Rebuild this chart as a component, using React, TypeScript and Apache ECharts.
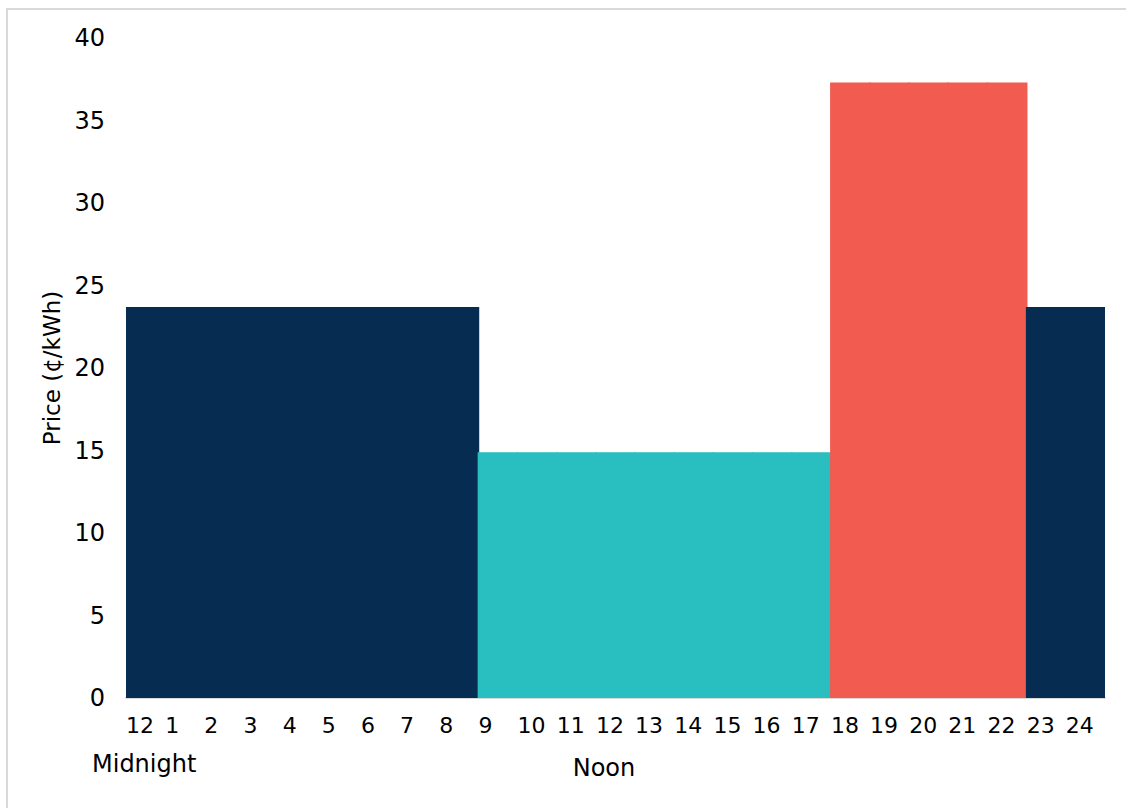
import React, { useEffect, useRef } from "react";
import * as echarts from "echarts";

// Hour categories (12 = midnight, then hours 1..24)
const hourLabels = [
  "12", "1", "2", "3", "4", "5", "6", "7", "8",
  "9", "10", "11", "12", "13", "14", "15", "16", "17",
  "18", "19", "20", "21", "22",
  "23", "24",
];

// Price per hour in ¢/kWh
const prices = [
  23.7, 23.7, 23.7, 23.7, 23.7, 23.7, 23.7, 23.7, 23.7,
  14.9, 14.9, 14.9, 14.9, 14.9, 14.9, 14.9, 14.9, 14.9,
  37.3, 37.3, 37.3, 37.3, 37.3,
  23.7, 23.7,
];

// Rate period per hour
const periods = [
  "off", "off", "off", "off", "off", "off", "off", "off", "off",
  "mid", "mid", "mid", "mid", "mid", "mid", "mid", "mid", "mid",
  "peak", "peak", "peak", "peak", "peak",
  "off", "off",
];

const periodColors: Record<string, string> = {
  off: "#062D51",
  mid: "#29BFC1",
  peak: "#F15B50",
};

const yMin = 0;
const yMax = 40;
const yInterval = 5;
const yAxisName = "Price (¢/kWh)";
const markerLabels = ["Midnight", "Noon"];

const FONT = "DejaVu Sans";

export default function App() {
  const ref = useRef<HTMLDivElement>(null);

  useEffect(() => {
    if (!ref.current) return;
    const chart = echarts.init(ref.current, undefined, { renderer: "svg" });
    const barData = prices.map((v, i) => ({
      value: v,
      itemStyle: { color: periodColors[periods[i]] },
    }));
    chart.setOption({
      animation: false,
      backgroundColor: "#ffffff",
      grid: { left: 126, right: 21, top: 38, bottom: 110, containLabel: false },
      xAxis: [
        {
          type: "category",
          data: hourLabels,
          boundaryGap: true,
          position: "bottom",
          axisLine: { show: true, lineStyle: { color: "#d9d9d9", width: 2 } },
          axisTick: { show: false },
          axisLabel: { show: false },
          splitLine: { show: false },
        },
        {
          type: "category",
          data: [...hourLabels, ""],
          boundaryGap: false,
          position: "bottom",
          axisLine: { show: false },
          axisTick: { show: false },
          splitLine: { show: false },
          axisLabel: {
            interval: 0,
            align: "left",
            margin: 16,
            fontSize: 22,
            fontFamily: FONT,
            color: "#000000",
            hideOverlap: false,
          },
        },
      ],
      yAxis: {
        type: "value",
        min: yMin,
        max: yMax,
        interval: yInterval,
        name: yAxisName,
        nameLocation: "middle",
        nameGap: 56,
        nameTextStyle: { fontSize: 23, fontFamily: FONT, color: "#000000" },
        axisLine: { show: false },
        axisTick: { show: false },
        splitLine: { show: false },
        axisLabel: {
          margin: 21,
          fontSize: 24,
          fontFamily: FONT,
          color: "#000000",
        },
      },
      series: [
        {
          type: "bar",
          xAxisIndex: 0,
          data: barData,
          barWidth: "104%",
        },
      ],
      graphic: [
        {
          type: "rect",
          silent: true,
          z: -10,
          shape: { x: 7, y: 9, width: 1140, height: 820 },
          style: { fill: "none", stroke: "#d9d9d9", lineWidth: 2 },
        },
        {
          type: "text",
          x: 92,
          y: 764,
          style: {
            text: markerLabels[0],
            fontSize: 24,
            fontFamily: FONT,
            fill: "#000000",
            align: "left",
            verticalAlign: "middle",
          },
        },
        {
          type: "text",
          x: 604,
          y: 768,
          style: {
            text: markerLabels[1],
            fontSize: 24,
            fontFamily: FONT,
            fill: "#000000",
            align: "center",
            verticalAlign: "middle",
          },
        },
      ],
    });
    return () => chart.dispose();
  }, []);

  return (
    <div
      ref={ref}
      style={{ position: "absolute", left: 0, top: 0, width: 1126, height: 808 }}
    />
  );
}
